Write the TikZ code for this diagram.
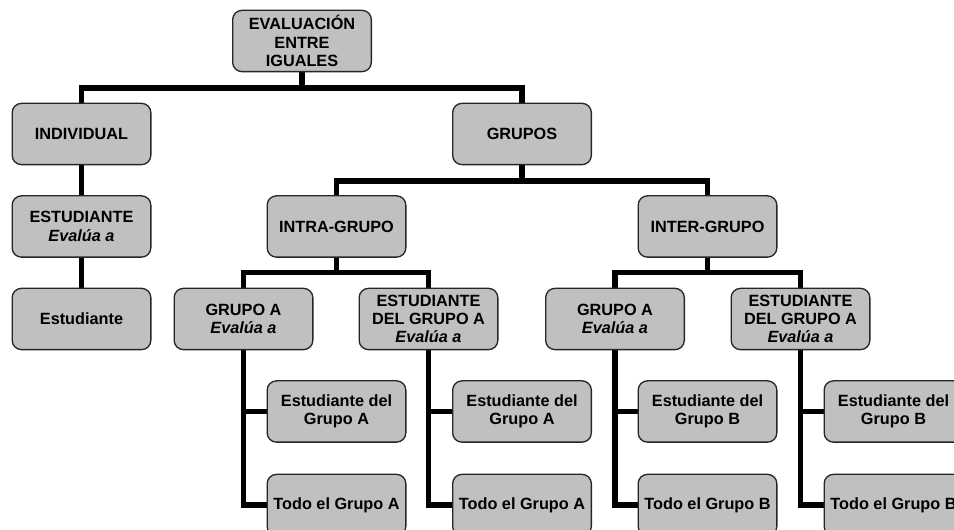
\documentclass[tikz,border=0pt]{standalone}
\usepackage{fontspec}
\setmainfont{Liberation Sans}
\usetikzlibrary{backgrounds}
\definecolor{boxgray}{HTML}{C0C0C0}
\begin{document}
\begin{tikzpicture}[x=0.75pt,y=-0.75pt,
  box/.style={draw=black!85,line width=1pt,fill=boxgray,rounded corners=7pt,
    minimum width=104pt,minimum height=46pt,inner sep=1pt,align=center,
    font=\fontsize{12.2}{13.8}\selectfont\bfseries,text=black},
  link/.style={line width=3.8pt,draw=black}]
\useasboundingbox (0,0) rectangle (954,530);
\clip (0,0) rectangle (954,530);
\coordinate (bA) at (0,88);
\coordinate (bB) at (0,181);
\coordinate (bC) at (0,272.5);
% nodes
\node[box] (root) at (302,41) {EVALUACIÓN\\ENTRE\\IGUALES};
\node[box] (indiv) at (81.5,134) {INDIVIDUAL};
\node[box] (grupos) at (522,134) {GRUPOS};
\node[box] (est1) at (81.5,226.5) {ESTUDIANTE\\\itshape Evalúa a};
\node[box] (est2) at (81.5,319) {Estudiante};
\node[box] (intra) at (336.5,226.5) {INTRA-GRUPO};
\node[box] (inter) at (707.5,226.5) {INTER-GRUPO};
\node[box] (gA1) at (243.5,319) {GRUPO A\\\itshape Evalúa a};
\node[box] (eA1) at (428.5,319) {ESTUDIANTE\\DEL GRUPO A\\\itshape Evalúa a};
\node[box] (gA2) at (615,319) {GRUPO A\\\itshape Evalúa a};
\node[box] (eA2) at (800.5,319) {ESTUDIANTE\\DEL GRUPO A\\\itshape Evalúa a};
\node[box] (l1a) at (336.5,411.5) {Estudiante del\\Grupo A};
\node[box] (l1b) at (336.5,505) {Todo el Grupo A};
\node[box] (l2a) at (522,411.5) {Estudiante del\\Grupo A};
\node[box] (l2b) at (522,505) {Todo el Grupo A};
\node[box] (l3a) at (707.5,411.5) {Estudiante del\\Grupo B};
\node[box] (l3b) at (707.5,505) {Todo el Grupo B};
\node[box] (l4a) at (893.5,411.5) {Estudiante del\\Grupo B};
\node[box] (l4b) at (893.5,505) {Todo el Grupo B};
% links
\begin{scope}[on background layer]
\draw[link] (root.south) -- (root.south |- bA) -| (indiv.north);
\draw[link] (root.south |- bA) -| (grupos.north);
\draw[link] (indiv) -- (est1);
\draw[link] (est1) -- (est2);
\draw[link] (grupos.south) -- (grupos.south |- bB) -| (intra.north);
\draw[link] (grupos.south |- bB) -| (inter.north);
\draw[link] (intra.south) -- (intra.south |- bC) -| (gA1.north);
\draw[link] (intra.south |- bC) -| (eA1.north);
\draw[link] (inter.south) -- (inter.south |- bC) -| (gA2.north);
\draw[link] (inter.south |- bC) -| (eA2.north);
\foreach \p/\a/\b in {gA1/l1a/l1b, eA1/l2a/l2b, gA2/l3a/l3b, eA2/l4a/l4b}{
  \draw[link] (\p.south) |- (\a.west);
  \draw[link] (\p.south) |- (\b.west);
}
\end{scope}
\end{tikzpicture}
\end{document}
